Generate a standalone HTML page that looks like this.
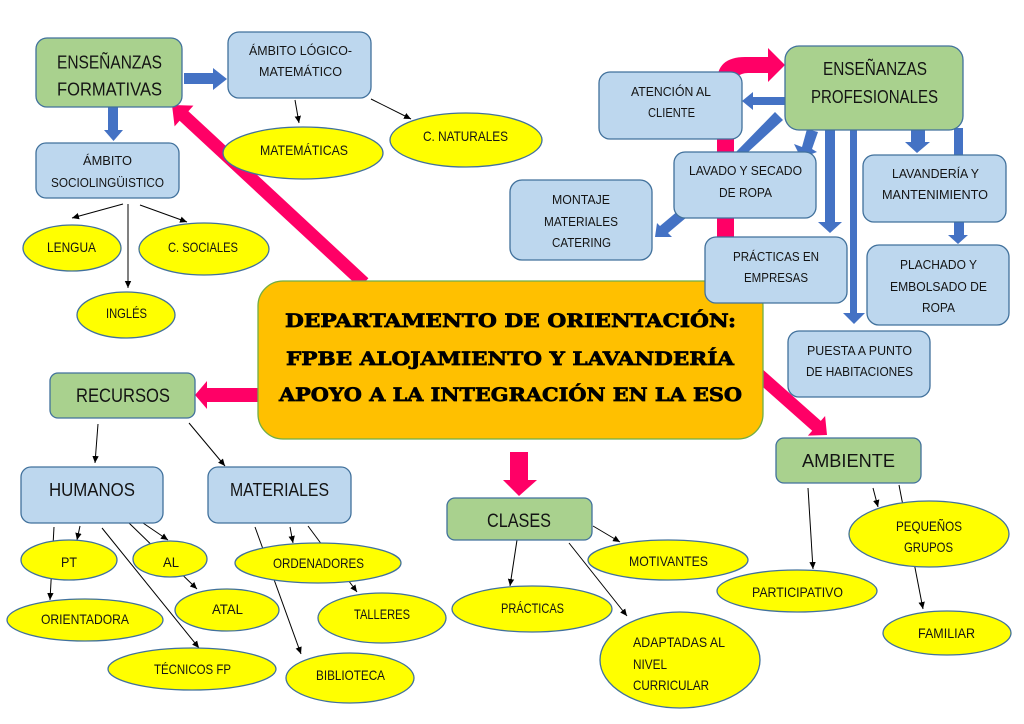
<!DOCTYPE html>
<html><head><meta charset="utf-8">
<style>
html,body{margin:0;padding:0;background:#fff;}
svg{display:block;}
text{font-family:"Liberation Sans",sans-serif;fill:#141414;}
.s{font-size:13px;}
.e{font-size:14px;}
.b{font-size:18px;}
.c{font-family:"DejaVu Serif","Liberation Serif",serif;font-weight:bold;font-size:19px;fill:#000;stroke:#000;stroke-width:0.7;}
.bx{fill:#BDD7EE;stroke:#41719C;stroke-width:1.3;}
.gx{fill:#A9D18E;stroke:#41719C;stroke-width:1.3;}
.el{fill:#FFFF00;stroke:#41719C;stroke-width:1.3;}
.ln{stroke:#000;stroke-width:1;fill:none;marker-end:url(#ah);}
.bl{fill:#4472C4;}
.pk{fill:#FF0066;}
</style></head>
<body>
<svg width="1024" height="724" viewBox="0 0 1024 724" xmlns="http://www.w3.org/2000/svg">
<defs>
<marker id="ah" markerWidth="8" markerHeight="8" refX="7" refY="4" orient="auto" markerUnits="userSpaceOnUse">
<path d="M0,0.8 L7,4 L0,7.2 z" fill="#000"/>
</marker>
</defs>

<!-- pink arrows -->
<polygon class="pk" points="368.4,278.2 188.4,111.2 193.4,105.6 172,105 174.6,126.4 179.6,120.8 359.6,287.8"/>
<polygon class="pk" points="262,388 207,388 207,381 195,395 207,409 207,402 262,402"/>
<polygon class="pk" points="510,452 528,452 528,480 537,480 519,496 503,480 510,480"/>
<polygon class="pk" points="744.3,353.1 820.8,420.9 825.1,416.0 827,435 807.9,435.6 812.2,430.7 735.7,362.9"/>
<path class="pk" d="M717,290 L717,82 Q717,57 745,57 L768,57 L768,48 L785,65 L768,82 L768,73 L748,73 Q734,73 734,88 L734,290 Z"/>

<!-- blue arrows -->
<polygon class="bl" points="184,73 213,73 213,68 227,79 213,90 213,84 184,84"/>
<polygon class="bl" points="108,107 118,107 118,130 123,130 113.5,141 104,130 108,130"/>
<polygon class="bl" points="786,97 753,97 753,92 742,101 753,110 753,105 786,105"/>
<polygon class="bl" points="775,112 783,120 747,153 735,153"/>
<polygon class="bl" points="807,129 818,132 812,149 817,152 801,158 794,144 802,147"/>
<polygon class="bl" points="679,210 687,217 668,233 672,237 655,237 657,223 660,226"/>
<polygon class="bl" points="825,129 835,129 835,222 842,222 830,233 818,222 825,222"/>
<polygon class="bl" points="850,129 857,129 857,313 865,313 854,324 843,313 850,313"/>
<polygon class="bl" points="911,129 925,129 925,142 930,142 917,153 905,142 911,142"/>
<rect class="bl" x="954" y="128" width="9" height="28"/>
<polygon class="bl" points="954,221 964,221 964,235 968,235 958,244 948,235 954,235"/>

<!-- black connector lines -->
<line class="ln" x1="295" y1="100" x2="299" y2="123"/>
<line class="ln" x1="371" y1="99" x2="411" y2="119"/>
<line class="ln" x1="123" y1="204" x2="72" y2="218"/>
<line class="ln" x1="128" y1="204" x2="128" y2="288"/>
<line class="ln" x1="140" y1="205" x2="187" y2="222"/>
<line class="ln" x1="98" y1="424" x2="95" y2="463"/>
<line class="ln" x1="189" y1="423" x2="225" y2="466"/>
<line class="ln" x1="54" y1="527" x2="50" y2="600"/>
<line class="ln" x1="80" y1="526" x2="77" y2="540"/>
<line class="ln" x1="102" y1="528" x2="199" y2="648"/>
<line class="ln" x1="129" y1="523" x2="197" y2="589"/>
<line class="ln" x1="143" y1="523" x2="168" y2="540"/>
<line class="ln" x1="255" y1="527" x2="301" y2="654"/>
<line class="ln" x1="290" y1="527" x2="293" y2="543"/>
<line class="ln" x1="308" y1="526" x2="357" y2="592"/>
<line class="ln" x1="593" y1="526" x2="620" y2="542"/>
<line class="ln" x1="517" y1="540" x2="510" y2="586"/>
<line class="ln" x1="569" y1="543" x2="627" y2="616"/>
<line class="ln" x1="808" y1="488" x2="813" y2="569"/>
<line class="ln" x1="873" y1="488" x2="878" y2="507"/>
<line class="ln" x1="899" y1="485" x2="923" y2="609"/>

<!-- center box -->
<rect x="258" y="281" width="505" height="158" rx="25" fill="#FFC000" stroke="#70AD47" stroke-width="1.3"/>
<text class="c" x="285" y="327" textLength="451" lengthAdjust="spacingAndGlyphs">DEPARTAMENTO DE ORIENTACIÓN:</text>
<text class="c" x="286" y="365" textLength="448" lengthAdjust="spacingAndGlyphs">FPBE ALOJAMIENTO Y LAVANDERÍA</text>
<text class="c" x="279" y="401" textLength="463" lengthAdjust="spacingAndGlyphs">APOYO A LA INTEGRACIÓN EN LA ESO</text>

<!-- green boxes -->
<rect class="gx" x="36" y="38" width="146" height="69" rx="11"/>
<text class="b" x="57" y="68.5" textLength="105" lengthAdjust="spacingAndGlyphs">ENSEÑANZAS</text>
<text class="b" x="57" y="95.5" textLength="105" lengthAdjust="spacingAndGlyphs">FORMATIVAS</text>

<rect class="gx" x="785" y="46" width="178" height="84" rx="14"/>
<text class="b" x="823" y="75" textLength="104" lengthAdjust="spacingAndGlyphs">ENSEÑANZAS</text>
<text class="b" x="811" y="103" textLength="127" lengthAdjust="spacingAndGlyphs">PROFESIONALES</text>

<rect class="gx" x="50" y="373" width="145" height="45" rx="8"/>
<text class="b" style="font-size:19px" x="76" y="402" textLength="94" lengthAdjust="spacingAndGlyphs">RECURSOS</text>

<rect class="gx" x="447" y="498" width="145" height="42" rx="8"/>
<text class="b" style="font-size:19px" x="487" y="527" textLength="64" lengthAdjust="spacingAndGlyphs">CLASES</text>

<rect class="gx" x="776" y="438" width="145" height="45" rx="8"/>
<text class="b" x="802" y="467" textLength="93" lengthAdjust="spacingAndGlyphs">AMBIENTE</text>

<!-- blue boxes -->
<rect class="bx" x="228" y="32" width="143" height="66" rx="11"/>
<text class="s" x="249" y="55" textLength="103" lengthAdjust="spacingAndGlyphs">ÁMBITO LÓGICO-</text>
<text class="s" x="259" y="76" textLength="83" lengthAdjust="spacingAndGlyphs">MATEMÁTICO</text>

<rect class="bx" x="36" y="143" width="143" height="55" rx="10"/>
<text class="s" x="83" y="165" textLength="49" lengthAdjust="spacingAndGlyphs">ÁMBITO</text>
<text class="s" x="51" y="187" textLength="113" lengthAdjust="spacingAndGlyphs">SOCIOLINGÜISTICO</text>

<rect class="bx" x="599" y="72" width="143" height="67" rx="11"/>
<text class="s" x="631" y="96" textLength="80" lengthAdjust="spacingAndGlyphs">ATENCIÓN AL</text>
<text class="s" x="648" y="117" textLength="47" lengthAdjust="spacingAndGlyphs">CLIENTE</text>

<rect class="bx" x="674" y="152" width="142" height="66" rx="11"/>
<text class="s" x="689" y="175" textLength="113" lengthAdjust="spacingAndGlyphs">LAVADO Y SECADO</text>
<text class="s" x="719" y="197" textLength="53" lengthAdjust="spacingAndGlyphs">DE ROPA</text>

<rect class="bx" x="510" y="180" width="142" height="80" rx="12"/>
<text class="s" x="552" y="204" textLength="58" lengthAdjust="spacingAndGlyphs">MONTAJE</text>
<text class="s" x="544" y="226" textLength="74" lengthAdjust="spacingAndGlyphs">MATERIALES</text>
<text class="s" x="552" y="247" textLength="59" lengthAdjust="spacingAndGlyphs">CATERING</text>

<rect class="bx" x="705" y="237" width="142" height="66" rx="11"/>
<text class="s" x="733" y="261" textLength="86" lengthAdjust="spacingAndGlyphs">PRÁCTICAS EN</text>
<text class="s" x="744" y="282" textLength="64" lengthAdjust="spacingAndGlyphs">EMPRESAS</text>

<rect class="bx" x="863" y="155" width="143" height="67" rx="11"/>
<text class="s" x="892" y="178" textLength="87" lengthAdjust="spacingAndGlyphs">LAVANDERÍA Y</text>
<text class="s" x="882" y="199" textLength="106" lengthAdjust="spacingAndGlyphs">MANTENIMIENTO</text>

<rect class="bx" x="867" y="245" width="142" height="80" rx="12"/>
<text class="s" x="900" y="269" textLength="77" lengthAdjust="spacingAndGlyphs">PLACHADO Y</text>
<text class="s" x="890" y="291" textLength="97" lengthAdjust="spacingAndGlyphs">EMBOLSADO DE</text>
<text class="s" x="922" y="312" textLength="33" lengthAdjust="spacingAndGlyphs">ROPA</text>

<rect class="bx" x="788" y="331" width="142" height="66" rx="11"/>
<text class="s" x="807" y="355" textLength="105" lengthAdjust="spacingAndGlyphs">PUESTA A PUNTO</text>
<text class="s" x="806" y="376" textLength="107" lengthAdjust="spacingAndGlyphs">DE HABITACIONES</text>

<rect class="bx" x="21" y="467" width="142" height="56" rx="10"/>
<text class="b" x="49" y="496" textLength="86" lengthAdjust="spacingAndGlyphs">HUMANOS</text>

<rect class="bx" x="208" y="467" width="143" height="56" rx="10"/>
<text class="b" x="230" y="496" textLength="99" lengthAdjust="spacingAndGlyphs">MATERIALES</text>

<!-- yellow ellipses -->
<ellipse class="el" cx="72" cy="248" rx="49" ry="23"/>
<text class="e" x="47" y="252" textLength="49" lengthAdjust="spacingAndGlyphs">LENGUA</text>
<ellipse class="el" cx="204" cy="249" rx="65" ry="26"/>
<text class="e" x="168" y="252" textLength="70" lengthAdjust="spacingAndGlyphs">C. SOCIALES</text>
<ellipse class="el" cx="126" cy="315" rx="49" ry="23"/>
<text class="e" x="106" y="318" textLength="41" lengthAdjust="spacingAndGlyphs">INGLÉS</text>
<ellipse class="el" cx="303" cy="153" rx="80" ry="26"/>
<text class="e" x="260" y="155" textLength="88" lengthAdjust="spacingAndGlyphs">MATEMÁTICAS</text>
<ellipse class="el" cx="466" cy="140" rx="76" ry="27"/>
<text class="e" x="423" y="141" textLength="85" lengthAdjust="spacingAndGlyphs">C. NATURALES</text>

<ellipse class="el" cx="69" cy="560" rx="48" ry="20"/>
<text class="e" x="61" y="567" textLength="16" lengthAdjust="spacingAndGlyphs">PT</text>
<ellipse class="el" cx="170" cy="559" rx="37" ry="18"/>
<text class="e" x="163" y="567" textLength="16" lengthAdjust="spacingAndGlyphs">AL</text>
<ellipse class="el" cx="85" cy="620" rx="78" ry="21"/>
<text class="e" x="41" y="624" textLength="88" lengthAdjust="spacingAndGlyphs">ORIENTADORA</text>
<ellipse class="el" cx="227" cy="610" rx="52" ry="21"/>
<text class="e" x="212" y="614" textLength="31" lengthAdjust="spacingAndGlyphs">ATAL</text>
<ellipse class="el" cx="192" cy="669" rx="84" ry="21"/>
<text class="e" x="154" y="674" textLength="77" lengthAdjust="spacingAndGlyphs">TÉCNICOS FP</text>
<ellipse class="el" cx="318" cy="563" rx="83" ry="20"/>
<text class="e" x="273" y="568" textLength="91" lengthAdjust="spacingAndGlyphs">ORDENADORES</text>
<ellipse class="el" cx="382" cy="618" rx="64" ry="25"/>
<text class="e" x="354" y="619" textLength="56" lengthAdjust="spacingAndGlyphs">TALLERES</text>
<ellipse class="el" cx="350" cy="678" rx="64" ry="25"/>
<text class="e" x="316" y="680" textLength="69" lengthAdjust="spacingAndGlyphs">BIBLIOTECA</text>

<ellipse class="el" cx="668" cy="560" rx="80" ry="20"/>
<text class="e" x="629" y="566" textLength="79" lengthAdjust="spacingAndGlyphs">MOTIVANTES</text>
<ellipse class="el" cx="532" cy="609" rx="80" ry="23"/>
<text class="e" x="501" y="613" textLength="63" lengthAdjust="spacingAndGlyphs">PRÁCTICAS</text>
<ellipse class="el" cx="680" cy="660" rx="80" ry="48"/>
<text class="e" x="633" y="647" textLength="92" lengthAdjust="spacingAndGlyphs">ADAPTADAS AL</text>
<text class="e" x="633" y="669" textLength="34" lengthAdjust="spacingAndGlyphs">NIVEL</text>
<text class="e" x="633" y="690" textLength="76" lengthAdjust="spacingAndGlyphs">CURRICULAR</text>

<ellipse class="el" cx="797" cy="591" rx="80" ry="21"/>
<text class="e" x="752" y="597" textLength="91" lengthAdjust="spacingAndGlyphs">PARTICIPATIVO</text>
<ellipse class="el" cx="929" cy="534" rx="80" ry="33"/>
<text class="e" x="896" y="531" textLength="66" lengthAdjust="spacingAndGlyphs">PEQUEÑOS</text>
<text class="e" x="904" y="552" textLength="49" lengthAdjust="spacingAndGlyphs">GRUPOS</text>
<ellipse class="el" cx="947" cy="633" rx="64" ry="22"/>
<text class="e" x="918" y="638" textLength="57" lengthAdjust="spacingAndGlyphs">FAMILIAR</text>
</svg>
</body></html>
